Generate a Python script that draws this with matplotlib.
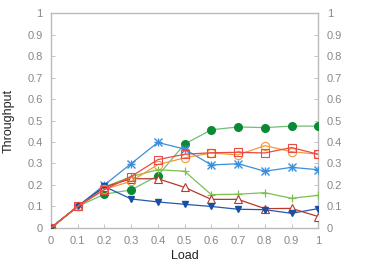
import matplotlib.pyplot as plt

# Load values
load = [0, 0.1, 0.2, 0.3, 0.4, 0.5, 0.6, 0.7, 0.8, 0.9, 1.0]

# Throughput series
green_dots = [0, 0.1, 0.157, 0.177, 0.243, 0.39, 0.457, 0.47, 0.467, 0.474, 0.474]
blue_stars = [0, 0.1, 0.2, 0.299, 0.398, 0.367, 0.293, 0.299, 0.264, 0.282, 0.271]
lime_plus = [0, 0.1, 0.19, 0.239, 0.271, 0.264, 0.155, 0.157, 0.164, 0.138, 0.152]
red_triangles = [0, 0.1, 0.19, 0.229, 0.229, 0.189, 0.133, 0.133, 0.09, 0.091, 0.053]
navy_triangles = [0, 0.1, 0.193, 0.135, 0.121, 0.11, 0.1, 0.087, 0.085, 0.068, 0.09]
orange_circles = [0, 0.1, 0.18, 0.217, 0.295, 0.326, 0.349, 0.34, 0.383, 0.355, 0.343]
red_squares = [0, 0.1, 0.178, 0.239, 0.318, 0.343, 0.35, 0.352, 0.349, 0.374, 0.343]

ticks = [0, 0.1, 0.2, 0.3, 0.4, 0.5, 0.6, 0.7, 0.8, 0.9, 1]
tick_labels = ["0", "0.1", "0.2", "0.3", "0.4", "0.5", "0.6", "0.7", "0.8", "0.9", "1"]

plt.rcParams['font.family'] = ['Liberation Sans', 'DejaVu Sans']

fig = plt.figure(figsize=(3.74, 2.62), dpi=100)
ax = fig.add_axes([0.136, 0.130, 0.715, 0.820])

lw = 0.9
ax.plot(load, green_dots, color='#6fbf73', lw=lw, marker='o', ms=5.5,
        mfc='#0a8a35', mec='#0a8a35', zorder=3)
ax.plot(load, blue_stars, color='#3a8fdc', lw=lw, marker='x', ms=5.5, mew=1.0, zorder=3)
ax.plot(load, blue_stars, color='none', marker='+', ms=6, mec='#3a8fdc', mew=1.0, zorder=3)
ax.plot(load, lime_plus, color='#7cc050', lw=lw, marker='+', ms=6, mew=0.9, zorder=3)
ax.plot(load, red_triangles, color='#b8382a', lw=lw, marker='^', ms=5.5,
        mfc='white', mec='#b8382a', mew=0.8, zorder=3)
ax.plot(load, navy_triangles, color='#1f5bb0', lw=lw, marker='v', ms=5,
        mfc='#1a4fa0', mec='#1a4fa0', zorder=3)
ax.plot(load, orange_circles, color='#f39a3a', lw=lw, marker='o', ms=6,
        mfc='none', mec='#f39a3a', mew=0.8, zorder=3)
ax.plot(load, red_squares, color='#ea4a42', lw=lw, marker='s', ms=6,
        mfc='none', mec='#ea4a42', mew=0.8, zorder=4)

ax.set_xlim(0, 1)
ax.set_ylim(0, 1)
ax.set_xticks(ticks)
ax.set_xticklabels(tick_labels)
ax.set_yticks(ticks)
ax.set_yticklabels(tick_labels)
ax.set_xlabel("Load", fontsize=9, labelpad=3, color='#222222')
ax.set_ylabel("Throughput", fontsize=9, labelpad=9, color='#222222')

ax.tick_params(axis='both', direction='in', length=3, width=0.6, color='#bbbbbb',
               labelcolor='#888888', labelsize=8, pad=6)
ax.tick_params(axis='y', right=True, labelright=True)
for sp in ax.spines.values():
    sp.set_color('#bbbbbb')
    sp.set_linewidth(1.0)

fig.savefig('out.png', dpi=100)
